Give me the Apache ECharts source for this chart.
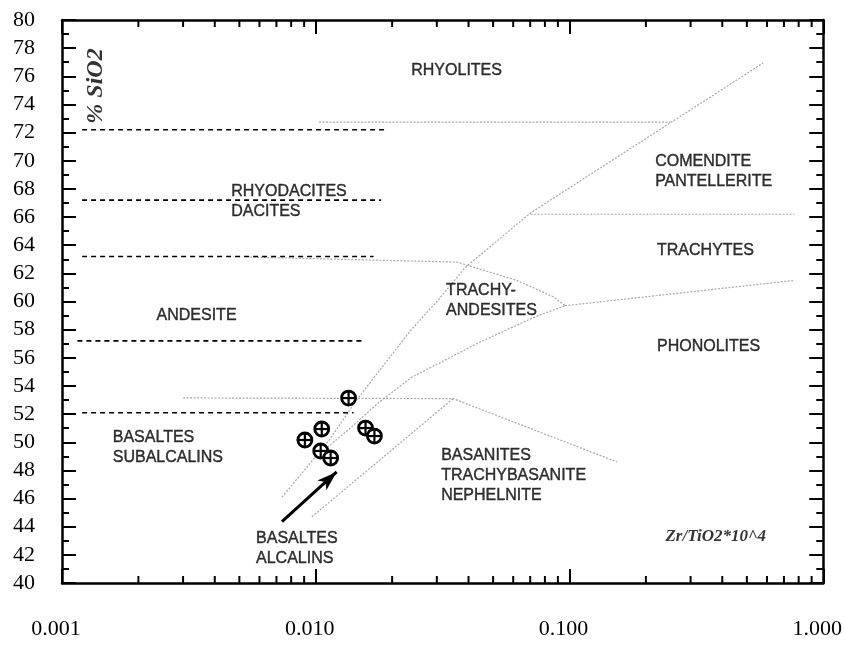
<!DOCTYPE html>
<html><head><meta charset="utf-8">
<script src="https://cdn.jsdelivr.net/npm/echarts@6/dist/echarts.min.js"></script>
<style>html,body{margin:0;padding:0;background:#fff}#c{width:845px;height:647px}</style>
</head><body><div id="c"></div>
<script>
// ---- axes ----
const xMin = 0.001, xMax = 1;
const yMin = 40, yMax = 80, yStep = 2;
const xMinorTicks = [0.002,0.003,0.004,0.005,0.006,0.007,0.008,0.009,
                     0.02,0.03,0.04,0.05,0.06,0.07,0.08,0.09,
                     0.2,0.3,0.4,0.5,0.6,0.7,0.8,0.9];
// ---- samples (Zr/TiO2, SiO2) ----
const samples = [[0.01347,53.14],[0.01056,50.94],[0.00906,50.16],[0.01046,49.38],[0.01145,48.88],[0.01571,51.01],[0.01703,50.44]];
// ---- black dashed field limits ----
const dash72 = [[0.0012,72.2],[0.019,72.2]];
const dash67 = [[0.0012,67.2],[0.0181,67.2]];
const dash63 = [[0.0012,63.2],[0.0169,63.2]];
const dash57 = [[0.00115,57.2],[0.0154,57.2]];
const dash52 = [[0.0012,52.1],[0.0141,52.1]];
// ---- grey field boundaries ----
const rhyoliteLine = [[0.0103,72.75],[0.25,72.75]];
const subalkalineLine = [[0.00736,46.1],[0.01125,50.1],[0.01435,52.9],[0.01766,55.0],[0.02379,58.0],[0.03037,60.1],[0.03876,62.4],[0.0703,66.3],[0.58,76.95]];
const comenditeLine = [[0.0703,66.2],[0.77,66.2]];
const line63 = [[0.0055,63.15],[0.036,62.8],[0.062,61.5],[0.087,60.3],[0.096,59.7]];
const phonoliteLine = [[0.096,59.7],[0.77,61.5]];
const trachyandesiteLower = [[0.01009,49.0],[0.01347,50.9],[0.01766,52.8],[0.0238,54.6],[0.0436,57.05],[0.0729,58.9],[0.096,59.7]];
const basaltLine53 = [[0.003,53.15],[0.0348,53.1],[0.154,48.6]];
const basaniteLine = [[0.00965,44.7],[0.0348,53.1]];
const arrowTail = [0.00736,44.36], arrowTip = [0.01209,47.89];
// ---- field names ----
const fieldNames = ['RHYOLITES','RHYODACITES\nDACITES','ANDESITE','BASALTES\nSUBALCALINS','BASALTES\nALCALINS',
  'BASANITES\nTRACHYBASANITE\nNEPHELNITE','TRACHY-\nANDESITES','COMENDITE\nPANTELLERITE','TRACHYTES','PHONOLITES'];
const fieldAnchors = [[0.02379,76.38],[0.004642,67.07],[0.002358,58.97],[0.001585,49.59],[0.005817,42.42],
  [0.0312,47.6],[0.03264,60.04],[0.2175,69.2],[0.2213,63.59],[0.2213,56.77]];
const yTitle = '% SiO2', yTitleAnchor = [0.001359,75.31];
const xTitle = 'Zr/TiO2*10^4', xTitleAnchor = [0.3771,43.27];

const chart = echarts.init(document.getElementById('c'), null, {renderer:'canvas'});
const serif = 'Liberation Serif, Times New Roman, serif';
const sans = 'Liberation Sans, Arial, sans-serif';
const axisLine = {show:true, onZero:false, lineStyle:{color:'#000', width:2.5}};

function greyLine(d){ return {type:'line', data:d, symbol:'none', silent:true, z:2,
  lineStyle:{color:'#a8a8a8', width:1.2, type:[2,1.5]}}; }
function dashLine(d){ return {type:'line', data:d, symbol:'none', silent:true, z:3,
  lineStyle:{color:'#000', width:1.6, type:[5,4]}}; }

const xBase = {type:'log', logBase:10, min:xMin, max:xMax, splitLine:{show:false}, axisLine,
  axisTick:{show:true, inside:true, length:14, lineStyle:{color:'#000', width:2}}, minorTick:{show:false}};
const yBase = {type:'value', min:yMin, max:yMax, interval:yStep, splitLine:{show:false}, axisLine,
  axisTick:{show:true, inside:true, length:14, lineStyle:{color:'#000', width:2}},
  minorTick:{show:true, splitNumber:2, length:7, lineStyle:{color:'#000', width:2}}, minorSplitLine:{show:false}};

chart.setOption({
  animation:false,
  backgroundColor:'#fff',
  grid:{left:62, right:18, top:20, bottom:64, containLabel:false},
  xAxis:[
    Object.assign({}, xBase, {position:'bottom',
      axisLabel:{show:true, margin:35, fontFamily:serif, fontSize:22, color:'#000', padding:[0,12,0,0],
        formatter:v=>Number(v).toFixed(3)}}),
    Object.assign({}, xBase, {position:'top', axisLabel:{show:false}})
  ],
  yAxis:[
    Object.assign({}, yBase, {position:'left',
      axisLabel:{show:true, margin:27, fontFamily:serif, fontSize:22, color:'#000'}}),
    Object.assign({}, yBase, {position:'right', axisLabel:{show:false}})
  ],
  series:[
    greyLine(rhyoliteLine), greyLine(subalkalineLine), greyLine(comenditeLine), greyLine(line63),
    greyLine(phonoliteLine), greyLine(trachyandesiteLower), greyLine(basaltLine53), greyLine(basaniteLine),
    dashLine(dash72), dashLine(dash67), dashLine(dash63), dashLine(dash57), dashLine(dash52),
    {type:'line', data:[], symbol:'none', silent:true,
      markLine:{silent:true, symbol:['none','arrow'], symbolSize:[10,20], label:{show:false},
        lineStyle:{color:'#000', width:3, type:'solid'},
        data:[[{coord:arrowTail},{coord:arrowTip}]]}},
    {type:'custom', silent:true, clip:false, z:5,
      data: xMinorTicks.map(v=>[v, yMin]),
      renderItem:(params, api)=>{
        const b = api.coord([api.value(0), yMin]);
        const t = api.coord([api.value(0), yMax]);
        return {type:'group', children:[
          {type:'line', shape:{x1:b[0],y1:b[1],x2:b[0],y2:b[1]-7}, style:{stroke:'#000', lineWidth:2}},
          {type:'line', shape:{x1:t[0],y1:t[1],x2:t[0],y2:t[1]+7}, style:{stroke:'#000', lineWidth:2}}
        ]};
      }},
    {type:'custom', silent:true, z:10, data:samples,
      renderItem:(params, api)=>{
        const p = api.coord([api.value(0), api.value(1)]);
        const r = 7;
        return {type:'group', children:[
          {type:'circle', shape:{cx:p[0], cy:p[1], r:r}, style:{fill:'#fff', stroke:'#000', lineWidth:2.8}},
          {type:'line', shape:{x1:p[0]-r, y1:p[1], x2:p[0]+r, y2:p[1]}, style:{stroke:'#000', lineWidth:2.2}},
          {type:'line', shape:{x1:p[0], y1:p[1]-r, x2:p[0], y2:p[1]+r}, style:{stroke:'#000', lineWidth:2.2}}
        ]};
      }},
    {type:'scatter', silent:true, symbolSize:0, z:8,
      data: fieldNames.map((n,i)=>({name:n, value:fieldAnchors[i]})),
      label:{show:true, position:'inside', align:'left', verticalAlign:'middle', formatter:p=>p.name,
        fontFamily:sans, fontSize:16, lineHeight:20, color:'#000', textBorderColor:'#000', textBorderWidth:0.4}},
    {type:'scatter', silent:true, symbolSize:0, z:8,
      data:[{name:yTitle, value:yTitleAnchor}],
      label:{show:true, position:'inside', align:'center', verticalAlign:'middle', rotate:90, formatter:p=>p.name,
        fontFamily:serif, fontSize:24, fontStyle:'italic', fontWeight:'bold', color:'#000'}},
    {type:'scatter', silent:true, symbolSize:0, z:8,
      data:[{name:xTitle, value:xTitleAnchor}],
      label:{show:true, position:'inside', align:'center', verticalAlign:'middle', formatter:p=>p.name,
        fontFamily:serif, fontSize:17, fontStyle:'italic', fontWeight:'bold', color:'#000'}}
  ]
});
</script>
</body></html>
